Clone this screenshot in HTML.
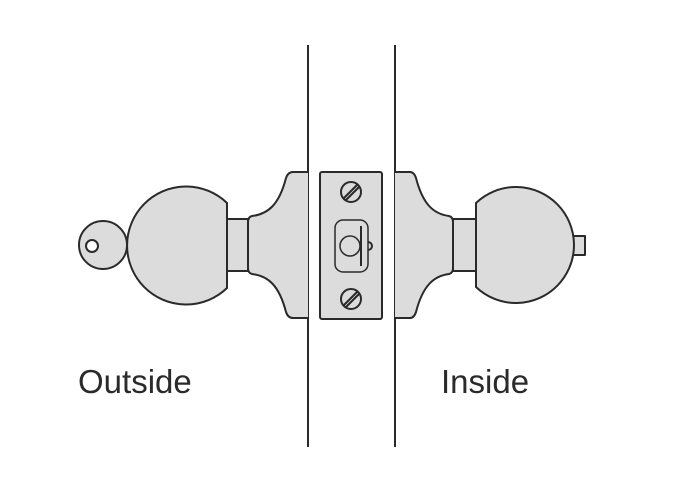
<!DOCTYPE html>
<html><head><style>
html,body{margin:0;padding:0;background:#fff;}
svg{display:block;}
text{font-family:"Liberation Sans",sans-serif;fill:#2a2a2a;}
</style></head><body>
<svg width="699" height="486" viewBox="0 0 699 486" xmlns="http://www.w3.org/2000/svg">
<g stroke="#2a2a2a" stroke-width="2" fill="#dcdcdc" stroke-linejoin="round">
<line x1="308" y1="45" x2="308" y2="447" fill="none"/>
<line x1="395" y1="45" x2="395" y2="447" fill="none"/>
<circle cx="103" cy="245" r="24"/>
<circle cx="92" cy="246" r="6" fill="#fff"/>
<path d="M227,203 A59,59 0 1 0 227,288 Z"/>
<rect x="227" y="219" width="21" height="52"/>
<path d="M308,172 L293,172 Q288,172 286,178 C279,205 268,214 252,216 Q248,217 248,222 L248,268 Q248,273 252,274 C268,276 279,285 286,312 Q288,318 293,318 L308,318"/>
<rect x="320" y="172" width="62" height="147" rx="2"/>
<circle cx="351" cy="192" r="10"/>
<line x1="344" y1="198" x2="357" y2="185"/>
<line x1="346" y1="200" x2="359" y2="187"/>
<circle cx="351" cy="299" r="10"/>
<line x1="344" y1="305" x2="357" y2="292"/>
<line x1="346" y1="307" x2="359" y2="294"/>
<path d="M368,242 a4,4 0 0 1 0,8" fill="none"/>
<rect x="335" y="220" width="33" height="52" rx="8" fill="none" stroke-width="1.5"/>
<circle cx="350" cy="246" r="10" fill="none" stroke-width="1.5"/>
<line x1="361" y1="226" x2="361" y2="266"/>
<path d="M395,172 L410,172 Q414,172 416,178 C423,205 434,214 449,216 Q453,217 453,222 L453,268 Q453,273 449,274 C434,276 423,285 416,312 Q414,318 410,318 L395,318"/>
<rect x="453" y="219" width="23" height="52"/>
<rect x="572" y="236" width="13" height="19"/>
<path d="M476,203 A58,58 0 1 1 476,287 Z"/>
</g>
<text x="78" y="393" font-size="33">Outside</text>
<text x="441" y="393" font-size="33">Inside</text>
</svg>
</body></html>
